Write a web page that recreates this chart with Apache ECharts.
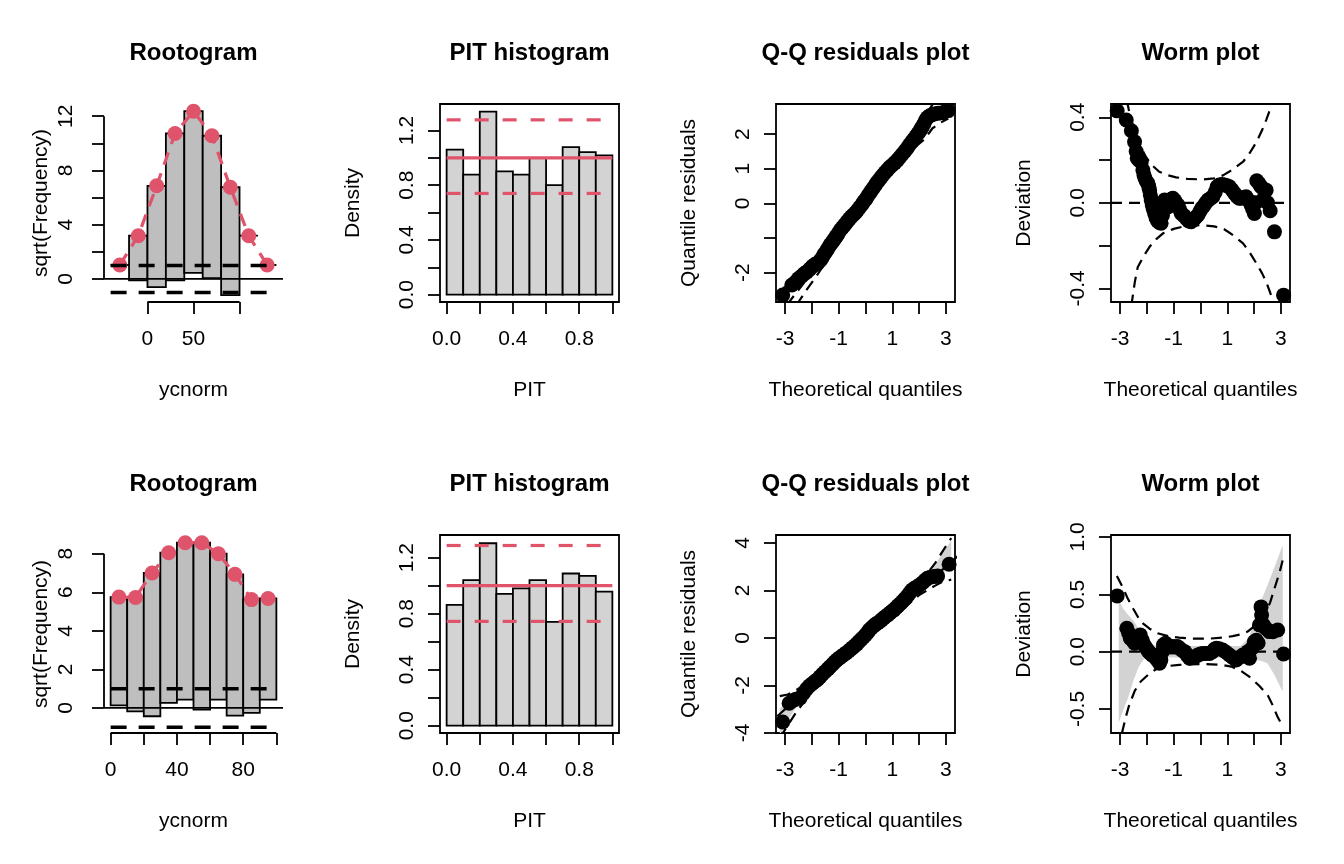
<!DOCTYPE html>
<html><head><meta charset="utf-8">
<script src="https://cdn.jsdelivr.net/npm/echarts@6/dist/echarts.min.js"></script>
<style>html,body{margin:0;padding:0;background:#fff}#c{width:1344px;height:864px}</style>
</head><body><div id="c"></div>
<script>
// ================= DATA =================
// Rootogram (top): bins, expected sqrt(freq), observed sqrt(freq)
const root1BinLo = [-40,-20,0,20,40,60,80,100,120];
const root1BinHi = [-20,0,20,40,60,80,100,120,140];
const root1Expected = [1.03,3.19,6.87,10.73,12.37,10.56,6.76,3.19,1.03];
const root1Observed = [0,3.29,7.47,10.83,11.92,10.51,7.96,0,0];
// Rootogram (bottom)
const root2BinLo = [0,10,20,30,40,50,60,70,80,90];
const root2BinHi = [10,20,30,40,50,60,70,80,90,100];
const root2Expected = [5.75,5.73,7.0,8.05,8.57,8.57,8.0,6.93,5.62,5.68];
const root2Observed = [5.62,5.91,7.43,7.79,8.14,8.66,7.57,7.33,5.88,5.25];
const rootRef = [1,-1];

// PIT histograms
const pitBinLo = [0,0.1,0.2,0.3,0.4,0.5,0.6,0.7,0.8,0.9];
const pitBinHi = [0.1,0.2,0.3,0.4,0.5,0.6,0.7,0.8,0.9,1.0];
const pit1Density = [1.06,0.878,1.338,0.902,0.878,1.0,0.8,1.079,1.042,1.018];
const pit2Density = [0.863,1.04,1.303,0.941,0.981,1.04,0.741,1.087,1.07,0.957];
const pit1Ref = [1.0,1.278,0.74];
const pit2Ref = [1.0,1.287,0.745];

// Q-Q residuals (top)
const qq1Theo = [-3.09,-2.75,-2.62,-2.5,-2.38,-2.28,-2.19,-2.08,-1.98,-1.88,-1.78,-1.7,-1.63,-1.55,-1.47,-1.4,-1.32,-1.25,-1.19,-1.1,-1.02,-0.94,-0.86,-0.78,-0.69,-0.6,-0.52,-0.45,-0.375,-0.3,-0.22,-0.14,-0.06,0.02,0.1,0.19,0.27,0.35,0.42,0.5,0.58,0.65,0.73,0.81,0.9,0.99,1.09,1.19,1.28,1.37,1.47,1.56,1.65,1.74,1.81,1.88,1.95,2.02,2.07,2.12,2.18,2.24,2.31,2.4,2.48,2.56,2.7,2.87,3.09];
const qq1Resid = [-2.65,-2.36,-2.28,-2.17,-2.1,-2.03,-1.98,-1.9,-1.82,-1.76,-1.72,-1.66,-1.59,-1.48,-1.39,-1.3,-1.2,-1.13,-1.06,-0.96,-0.87,-0.77,-0.7,-0.62,-0.53,-0.45,-0.38,-0.33,-0.27,-0.2,-0.12,-0.04,0.05,0.13,0.23,0.33,0.42,0.51,0.59,0.67,0.75,0.82,0.89,0.96,1.04,1.1,1.17,1.25,1.33,1.42,1.51,1.6,1.7,1.79,1.86,1.93,2.01,2.08,2.15,2.21,2.3,2.4,2.48,2.53,2.56,2.58,2.6,2.62,2.68];
const qq1CiX  = [-3.09,-2.8,-2.5,-2.2,-1.9,-1.5,-1,-0.5,0,0.5,1,1.5,1.9,2.2,2.5,2.8,3.09];
const qq1CiLo = [-3.9,-3.35,-2.85,-2.5,-2.18,-1.72,-1.17,-0.63,-0.1,0.4,0.88,1.33,1.66,1.85,2.17,2.33,2.45];
const qq1CiHi = [-2.45,-2.33,-2.17,-1.85,-1.66,-1.33,-0.88,-0.4,0.1,0.63,1.17,1.72,2.18,2.5,2.85,3.35,3.9];

// Q-Q residuals (bottom)
const qq2Theo = [-3.09,-2.85,-2.72,-2.6,-2.44,-2.31,-2.2,-2.1,-1.98,-1.88,-1.8,-1.7,-1.6,-1.5,-1.4,-1.31,-1.22,-1.14,-1.06,-0.97,-0.89,-0.81,-0.72,-0.64,-0.56,-0.48,-0.4,-0.32,-0.24,-0.16,-0.08,0.0,0.07,0.14,0.22,0.3,0.37,0.44,0.52,0.6,0.68,0.75,0.83,0.91,0.99,1.06,1.14,1.22,1.3,1.38,1.46,1.54,1.62,1.69,1.76,1.84,1.94,2.04,2.14,2.23,2.31,2.42,2.55,2.69,3.12];
const qq2Resid = [-3.54,-2.75,-2.64,-2.58,-2.53,-2.32,-2.15,-2.02,-1.92,-1.82,-1.76,-1.64,-1.52,-1.41,-1.3,-1.2,-1.1,-1.0,-0.92,-0.84,-0.77,-0.71,-0.63,-0.56,-0.49,-0.41,-0.33,-0.25,-0.15,-0.06,0.03,0.12,0.22,0.33,0.42,0.5,0.57,0.62,0.68,0.76,0.84,0.9,0.97,1.05,1.12,1.18,1.27,1.36,1.44,1.53,1.63,1.73,1.85,1.95,2.03,2.1,2.16,2.24,2.33,2.43,2.51,2.55,2.58,2.6,3.1];
const qq2CiX  = [-3.2,-2.9,-2.6,-2.3,-2.0,-1.5,-1,-0.5,0,0.5,1,1.5,2.0,2.3,2.6,2.9,3.2];
const qq2CiLo = [-4.2,-3.68,-3.15,-2.7,-2.25,-1.72,-1.17,-0.63,-0.1,0.4,0.88,1.33,1.8,2.0,2.2,2.38,2.45];
const qq2CiHi = [-2.45,-2.38,-2.2,-2.0,-1.8,-1.33,-0.88,-0.4,0.1,0.63,1.17,1.72,2.25,2.7,3.15,3.68,4.2];
const qq2EnvX  = [-3.2,-2.9,-2.6,-2.3,-2.0,-1.5,-1,0,1,1.5,2.0,2.3,2.6,2.9,3.2];
const qq2EnvLo = [-4.1,-3.45,-2.95,-2.55,-2.15,-1.6,-1.07,-0.08,0.95,1.42,1.9,2.2,2.5,2.75,2.95];
const qq2EnvHi = [-2.95,-2.75,-2.5,-2.2,-1.9,-1.42,-0.95,0.08,1.07,1.6,2.15,2.6,3.1,3.6,4.1];

// Worm plot (top)
const worm1Theo = [-3.11,-2.77,-2.58,-2.46,-2.4,-2.36,-2.3,-2.25,-2.21,-2.15,-2.11,-2.07,-2.02,-1.96,-1.93,-1.9,-1.87,-1.84,-1.8,-1.76,-1.71,-1.66,-1.6,-1.54,-1.47,-1.42,-1.38,-1.34,-1.29,-1.22,-1.15,-1.08,-1.03,-0.96,-0.9,-0.84,-0.78,-0.72,-0.62,-0.53,-0.44,-0.35,-0.27,-0.18,-0.1,-0.02,0.05,0.12,0.2,0.28,0.37,0.46,0.55,0.62,0.7,0.8,0.9,0.99,1.08,1.18,1.27,1.36,1.44,1.52,1.6,1.7,1.8,1.89,1.95,2.01,2.06,2.1,2.18,2.26,2.35,2.45,2.32,2.5,2.6,2.76,3.1];
const worm1Dev = [0.43,0.387,0.337,0.285,0.24,0.208,0.2,0.195,0.192,0.153,0.13,0.114,0.1,0.091,0.075,0.059,0.035,0.013,-0.01,-0.03,-0.05,-0.07,-0.085,-0.092,-0.096,-0.06,-0.02,0.013,0.0,-0.019,0.005,0.018,0.021,0.01,-0.005,-0.011,-0.03,-0.05,-0.06,-0.073,-0.085,-0.089,-0.08,-0.068,-0.058,-0.04,-0.025,-0.015,0.0,0.013,0.02,0.028,0.05,0.075,0.083,0.085,0.083,0.08,0.075,0.06,0.044,0.03,0.021,0.021,0.025,0.028,0.01,-0.011,-0.03,-0.05,0.0,0.103,0.09,0.075,0.065,0.059,0.013,0.0,-0.037,-0.136,-0.432];
const worm1UpX = [-2.75,-2.6,-2.41,-2.2,-2.04,-1.8,-1.54,-1.2,-0.91,-0.5,0.09,0.5,0.84,1.2,1.59,1.85,2.09,2.3,2.45,2.55,2.66];
const worm1Up  = [0.48,0.39,0.325,0.255,0.215,0.175,0.145,0.128,0.119,0.112,0.109,0.114,0.128,0.155,0.192,0.235,0.285,0.34,0.387,0.42,0.47];
const worm1LoX = [-2.58,-2.45,-2.34,-2.1,-1.9,-1.65,-1.4,-1.0,-0.66,-0.04,0.5,0.84,1.2,1.59,1.85,2.09,2.3,2.45,2.6,2.72];
const worm1Lo  = [-0.48,-0.37,-0.30,-0.245,-0.206,-0.17,-0.143,-0.122,-0.112,-0.104,-0.11,-0.12,-0.15,-0.19,-0.235,-0.284,-0.33,-0.37,-0.42,-0.47];

// Worm plot (bottom)
const worm2Theo = [-3.11,-2.75,-2.68,-2.62,-2.54,-2.46,-2.35,-2.25,-2.17,-2.1,-2.02,-1.95,-1.88,-1.8,-1.71,-1.62,-1.53,-1.48,-1.43,-1.38,-1.3,-1.22,-1.13,-1.03,-0.95,-0.86,-0.78,-0.68,-0.59,-0.5,-0.41,-0.3,-0.2,-0.1,0.0,0.09,0.2,0.34,0.45,0.52,0.59,0.7,0.83,0.95,1.08,1.2,1.33,1.45,1.58,1.7,1.77,1.83,1.92,2.01,2.08,2.15,2.2,2.26,2.28,2.35,2.45,2.57,2.7,2.88,3.1];
const worm2Dev = [0.486,0.204,0.16,0.117,0.10,0.073,0.11,0.146,0.1,0.058,0.03,0.005,-0.014,-0.03,-0.044,-0.07,-0.101,-0.072,0.0,0.06,0.073,0.05,0.04,0.044,0.04,0.044,0.03,0.01,0.0,-0.03,-0.058,-0.05,-0.044,-0.03,-0.02,-0.015,-0.015,-0.015,0.0,0.02,0.03,0.025,0.015,-0.005,-0.029,-0.05,-0.073,-0.05,-0.029,-0.04,0.0,-0.058,0.03,0.087,0.10,0.075,0.233,0.39,0.32,0.233,0.2,0.175,0.174,0.189,-0.02];
const worm2UpX = [-3.12,-2.9,-2.72,-2.5,-2.23,-1.9,-1.6,-1.2,-0.8,-0.4,0,0.4,0.8,1.2,1.5,1.76,2.1,2.39,2.6,2.76,2.95,3.07];
const worm2Up  = [0.66,0.56,0.466,0.37,0.26,0.2,0.16,0.135,0.122,0.115,0.113,0.115,0.122,0.135,0.15,0.175,0.24,0.32,0.43,0.55,0.69,0.80];
const worm2LoX = [-2.93,-2.8,-2.66,-2.45,-2.23,-1.9,-1.6,-1.2,-0.8,-0.4,0,0.4,0.8,1.15,1.5,1.89,2.2,2.51,2.7,2.88,3.07];
const worm2Lo  = [-0.71,-0.58,-0.465,-0.34,-0.26,-0.19,-0.145,-0.125,-0.115,-0.11,-0.108,-0.11,-0.115,-0.13,-0.165,-0.23,-0.3,-0.38,-0.47,-0.57,-0.65];
const worm2EnvX  = [-3.05,-2.9,-2.7,-2.5,-2.3,-2.1,-1.8,-1.5,-1,0,1,1.5,1.8,2.0,2.25,2.5,2.75,3.07];
const worm2EnvLo = [-0.62,-0.52,-0.40,-0.25,-0.13,-0.06,-0.05,-0.05,-0.05,-0.05,-0.05,-0.05,-0.05,-0.07,-0.08,-0.10,-0.20,-0.35];
const worm2EnvHi = [0.45,0.38,0.32,0.27,0.2,0.1,0.06,0.05,0.05,0.05,0.05,0.05,0.12,0.26,0.44,0.58,0.73,0.93];

// Titles, axis names, ticks and tick labels
const panelTitles = ['Rootogram','PIT histogram','Q-Q residuals plot','Worm plot'];
const xNames = ['ycnorm','PIT','Theoretical quantiles','Theoretical quantiles'];
const yNames = ['sqrt(Frequency)','Density','Quantile residuals','Deviation'];
const root1XTicks = [0,50,100], root1XLabels = [0,50];
const root1YTicks = [0,2,4,6,8,10,12], root1YLabels = [0,4,8,12];
const root2XTicks = [0,20,40,60,80,100], root2XLabels = [0,40,80];
const root2YTicks = [0,2,4,6,8], root2YLabels = [0,2,4,6,8];
const pitXTicks = [0,0.2,0.4,0.6,0.8,1], pitXLabels = [0,0.4,0.8];
const pitYTicks = [0,0.2,0.4,0.6,0.8,1,1.2], pitYLabels = [0,0.4,0.8,1.2];
const qqXTicks = [-3,-2,-1,0,1,2,3], qqXLabels = [-3,-1,1,3];
const qq1YTicks = [-2,-1,0,1,2], qq1YLabels = [-2,0,1,2];
const qq2YTicks = [-4,-2,0,2,4], qq2YLabels = [-4,-2,0,2,4];
const worm1YTicks = [-0.4,-0.2,0,0.2,0.4], worm1YLabels = [-0.4,0,0.4];
const worm2YTicks = [-0.5,0,0.5,1], worm2YLabels = [-0.5,0,0.5,1];

// ================= BUILD =================
const FONT = 'Liberation Sans, Arial, Helvetica, sans-serif';
const RED = '#DF536B';
const colLeft = [104,440,776,1111], rowTop = [104,535];
const PW = 179, PH = 198;
const grids=[], xAxes=[], yAxes=[], series=[], graphics=[];

const fmt1 = v => Number(v).toFixed(1);
const fmt0 = v => String(v);

function addPanel(i, o){
  const col=i%4, row=Math.floor(i/4);
  grids[i] = {left:colLeft[col], top:rowTop[row], width:PW, height:PH, show:o.box, borderColor:'#000', borderWidth:1.8, backgroundColor:'transparent', containLabel:false};
  xAxes[i] = {gridIndex:i, type:'value', min:o.xmin, max:o.xmax, position:'bottom',
    axisLine:{show:false,onZero:false}, splitLine:{show:false},
    axisTick:{show:true,length:12,lineStyle:{color:'#000',width:1.8},customValues:o.xt},
    axisLabel:{customValues:o.xl,margin:27,color:'#000',fontSize:21,fontFamily:FONT,formatter:o.xf||fmt0},
    name:xNames[col], nameLocation:'middle', nameGap:78, nameTextStyle:{fontSize:21,color:'#000',fontFamily:FONT}};
  yAxes[i] = {gridIndex:i, type:'value', min:o.ymin, max:o.ymax, position:'left',
    axisLine:{show:false,onZero:false}, splitLine:{show:false},
    axisTick:{show:true,length:12,lineStyle:{color:'#000',width:1.8},customValues:o.yt},
    axisLabel:{customValues:o.yl,margin:o.ym||22,rotate:90,color:'#000',fontSize:21,fontFamily:FONT,formatter:o.yf||fmt0},
    name:yNames[col], nameLocation:'middle', nameGap:o.yng||76, nameRotate:90, nameTextStyle:{fontSize:21,color:'#000',fontFamily:FONT}};
  graphics.push({type:'text', x:colLeft[col]+PW/2, y:rowTop[row]-51, silent:true,
    style:{text:panelTitles[col], font:'bold 24px '+FONT, fill:'#000', textAlign:'center', textVerticalAlign:'middle'}});
}

function base(i){ return {xAxisIndex:i, yAxisIndex:i, silent:true, animation:false}; }
function rects(i, lo, hi, bot, top, fill){
  const rows = lo.map((v,k)=>[v, hi[k], bot[k], top[k]]);
  return Object.assign(base(i), {type:'custom', data:rows, encode:{x:[0,1],y:[2,3]}, clip:true,
    renderItem:(p,api)=>{
      const a=api.coord([api.value(0),api.value(2)]), b=api.coord([api.value(1),api.value(3)]);
      return {type:'rect', shape:{x:Math.min(a[0],b[0]), y:Math.min(a[1],b[1]), width:Math.abs(b[0]-a[0]), height:Math.abs(b[1]-a[1])},
        style:{fill:fill, stroke:'#000', lineWidth:1.8}};
    }});
}
function band(i, xs, lo, hi, fill){
  const rows = xs.map((x,k)=>[x, lo[k], hi[k]]);
  return Object.assign(base(i), {type:'custom', data:rows, encode:{x:0,y:[1,2]}, clip:true, z:1,
    renderItem:(p,api)=>{
      if (p.dataIndex!==0) return null;
      const pts=[];
      for (let k=0;k<xs.length;k++) pts.push(api.coord([xs[k],hi[k]]));
      for (let k=xs.length-1;k>=0;k--) pts.push(api.coord([xs[k],lo[k]]));
      return {type:'polygon', shape:{points:pts}, style:{fill:fill, stroke:null}};
    }});
}
function line(i, pts, color, width, dash, clip){
  return Object.assign(base(i), {type:'line', data:pts, symbol:'none', clip:clip!==false,
    lineStyle:{color:color,width:width,type:dash||'solid',cap:'butt'}});
}
function pts(i, xs, ys, color, size){
  return Object.assign(base(i), {type:'scatter', data:xs.map((x,k)=>[x,ys[k]]), symbolSize:size, itemStyle:{color:color, opacity:1}});
}
const zip = (xs,ys)=>xs.map((x,k)=>[x,ys[k]]);
const DASH = [11,7];

// ---- Panel 0: rootogram top
(function(){
  const i=0, xmin=-47.2, xmax=147.2, ymin=-1.7, ymax=12.9;
  addPanel(i,{box:false,xmin,xmax,ymin,ymax,xt:root1XTicks,xl:root1XLabels,yt:root1YTicks,yl:root1YLabels,ym:27,yng:52});
  const bottoms = root1Expected.map((e,k)=>e-root1Observed[k]);
  series.push(rects(i, root1BinLo, root1BinHi, bottoms, root1Expected, '#BEBEBE'));
  series.push(line(i, [[xmin,0],[xmax,0]], '#000', 1.8));
  const mids = root1BinLo.map((v,k)=>(v+root1BinHi[k])/2);
  series.push(line(i, zip(mids, root1Expected), RED, 3.2, [13,9]));
  series.push(pts(i, mids, root1Expected, RED, 15));
  rootRef.forEach(r=>series.push(line(i, [[root1BinLo[0],r],[root1BinHi[root1BinHi.length-1],r]], '#000', 3.5, [16,12])));
  series.push(line(i, [[xmin,root1YTicks[0]],[xmin,root1YTicks[root1YTicks.length-1]]], '#000', 1.8, 'solid', false));
  series.push(line(i, [[root1XTicks[0],ymin],[root1XTicks[root1XTicks.length-1],ymin]], '#000', 1.8, 'solid', false));
})();

// ---- Panel 4: rootogram bottom
(function(){
  const i=4, xmin=-4, xmax=104, ymin=-1.3, ymax=8.97;
  addPanel(i,{box:false,xmin,xmax,ymin,ymax,xt:root2XTicks,xl:root2XLabels,yt:root2YTicks,yl:root2YLabels,ym:27,yng:52});
  const bottoms = root2Expected.map((e,k)=>e-root2Observed[k]);
  series.push(rects(i, root2BinLo, root2BinHi, bottoms, root2Expected, '#BEBEBE'));
  series.push(line(i, [[xmin,0],[xmax,0]], '#000', 1.8));
  const mids = root2BinLo.map((v,k)=>(v+root2BinHi[k])/2);
  series.push(line(i, zip(mids, root2Expected), RED, 3.2, [13,9]));
  series.push(pts(i, mids, root2Expected, RED, 15));
  rootRef.forEach(r=>series.push(line(i, [[root2BinLo[0],r],[root2BinHi[root2BinHi.length-1],r]], '#000', 3.5, [16,12])));
  series.push(line(i, [[xmin,root2YTicks[0]],[xmin,root2YTicks[root2YTicks.length-1]]], '#000', 1.8, 'solid', false));
  series.push(line(i, [[root2XTicks[0],ymin],[root2XTicks[root2XTicks.length-1],ymin]], '#000', 1.8, 'solid', false));
})();

// ---- PIT panels
[[1,pit1Density,pit1Ref,1.394,-0.054],[5,pit2Density,pit2Ref,1.362,-0.052]].forEach(([i,dens,ref,ymax,ymin])=>{
  addPanel(i,{box:true,xmin:-0.04,xmax:1.04,ymin,ymax,xt:pitXTicks,xl:pitXLabels,yt:pitYTicks,yl:pitYLabels,xf:fmt1,yf:fmt1});
  series.push(rects(i, pitBinLo, pitBinHi, pitBinLo.map(()=>0), dens, '#D3D3D3'));
  series.push(line(i, [[0,ref[0]],[1,ref[0]]], RED, 3.2));
  series.push(line(i, [[0,ref[1]],[1,ref[1]]], RED, 3.2, [14,14]));
  series.push(line(i, [[0,ref[2]],[1,ref[2]]], RED, 3.2, [14,14]));
});

// ---- QQ panels
(function(){
  const i=2;
  addPanel(i,{box:true,xmin:-3.34,xmax:3.34,ymin:-2.85,ymax:2.87,xt:qqXTicks,xl:qqXLabels,yt:qq1YTicks,yl:qq1YLabels});
  series.push(line(i, [[-3.34,-3.34],[3.34,3.34]], '#000', 2.2, DASH));
  series.push(line(i, zip(qq1CiX,qq1CiLo), '#000', 2.2, DASH));
  series.push(line(i, zip(qq1CiX,qq1CiHi), '#000', 2.2, DASH));
  series.push(pts(i, qq1Theo, qq1Resid, '#000', 15));
})();
(function(){
  const i=6;
  addPanel(i,{box:true,xmin:-3.34,xmax:3.34,ymin:-4.0,ymax:4.33,xt:qqXTicks,xl:qqXLabels,yt:qq2YTicks,yl:qq2YLabels});
  series.push(band(i, qq2EnvX, qq2EnvLo, qq2EnvHi, '#D3D3D3'));
  series.push(line(i, [[-4.3,-4.3],[4.3,4.3]], '#000', 2.2, DASH));
  series.push(line(i, zip(qq2CiX,qq2CiLo), '#000', 2.2, DASH));
  series.push(line(i, zip(qq2CiX,qq2CiHi), '#000', 2.2, DASH));
  series.push(pts(i, qq2Theo, qq2Resid, '#000', 15));
})();

// ---- Worm panels
(function(){
  const i=3;
  addPanel(i,{box:true,xmin:-3.34,xmax:3.34,ymin:-0.464,ymax:0.462,xt:qqXTicks,xl:qqXLabels,yt:worm1YTicks,yl:worm1YLabels,yf:fmt1});
  series.push(line(i, [[-3.34,0],[3.34,0]], '#000', 2.2, DASH));
  series.push(line(i, zip(worm1UpX,worm1Up), '#000', 2.2, DASH));
  series.push(line(i, zip(worm1LoX,worm1Lo), '#000', 2.2, DASH));
  series.push(pts(i, worm1Theo, worm1Dev, '#000', 15));
})();
(function(){
  const i=7;
  addPanel(i,{box:true,xmin:-3.34,xmax:3.34,ymin:-0.709,ymax:1.017,xt:qqXTicks,xl:qqXLabels,yt:worm2YTicks,yl:worm2YLabels,yf:fmt1});
  series.push(band(i, worm2EnvX, worm2EnvLo, worm2EnvHi, '#D3D3D3'));
  series.push(line(i, [[-3.34,0],[3.34,0]], '#000', 2.2, DASH));
  series.push(line(i, zip(worm2UpX,worm2Up), '#000', 2.2, DASH));
  series.push(line(i, zip(worm2LoX,worm2Lo), '#000', 2.2, DASH));
  series.push(pts(i, worm2Theo, worm2Dev, '#000', 15));
})();

const chart = echarts.init(document.getElementById('c'), null, {renderer:'canvas', width:1344, height:864});
chart.setOption({
  animation:false,
  backgroundColor:'#fff',
  textStyle:{fontFamily:FONT},
  grid:grids, xAxis:xAxes, yAxis:yAxes, series:series, graphic:graphics
});
</script></body></html>
